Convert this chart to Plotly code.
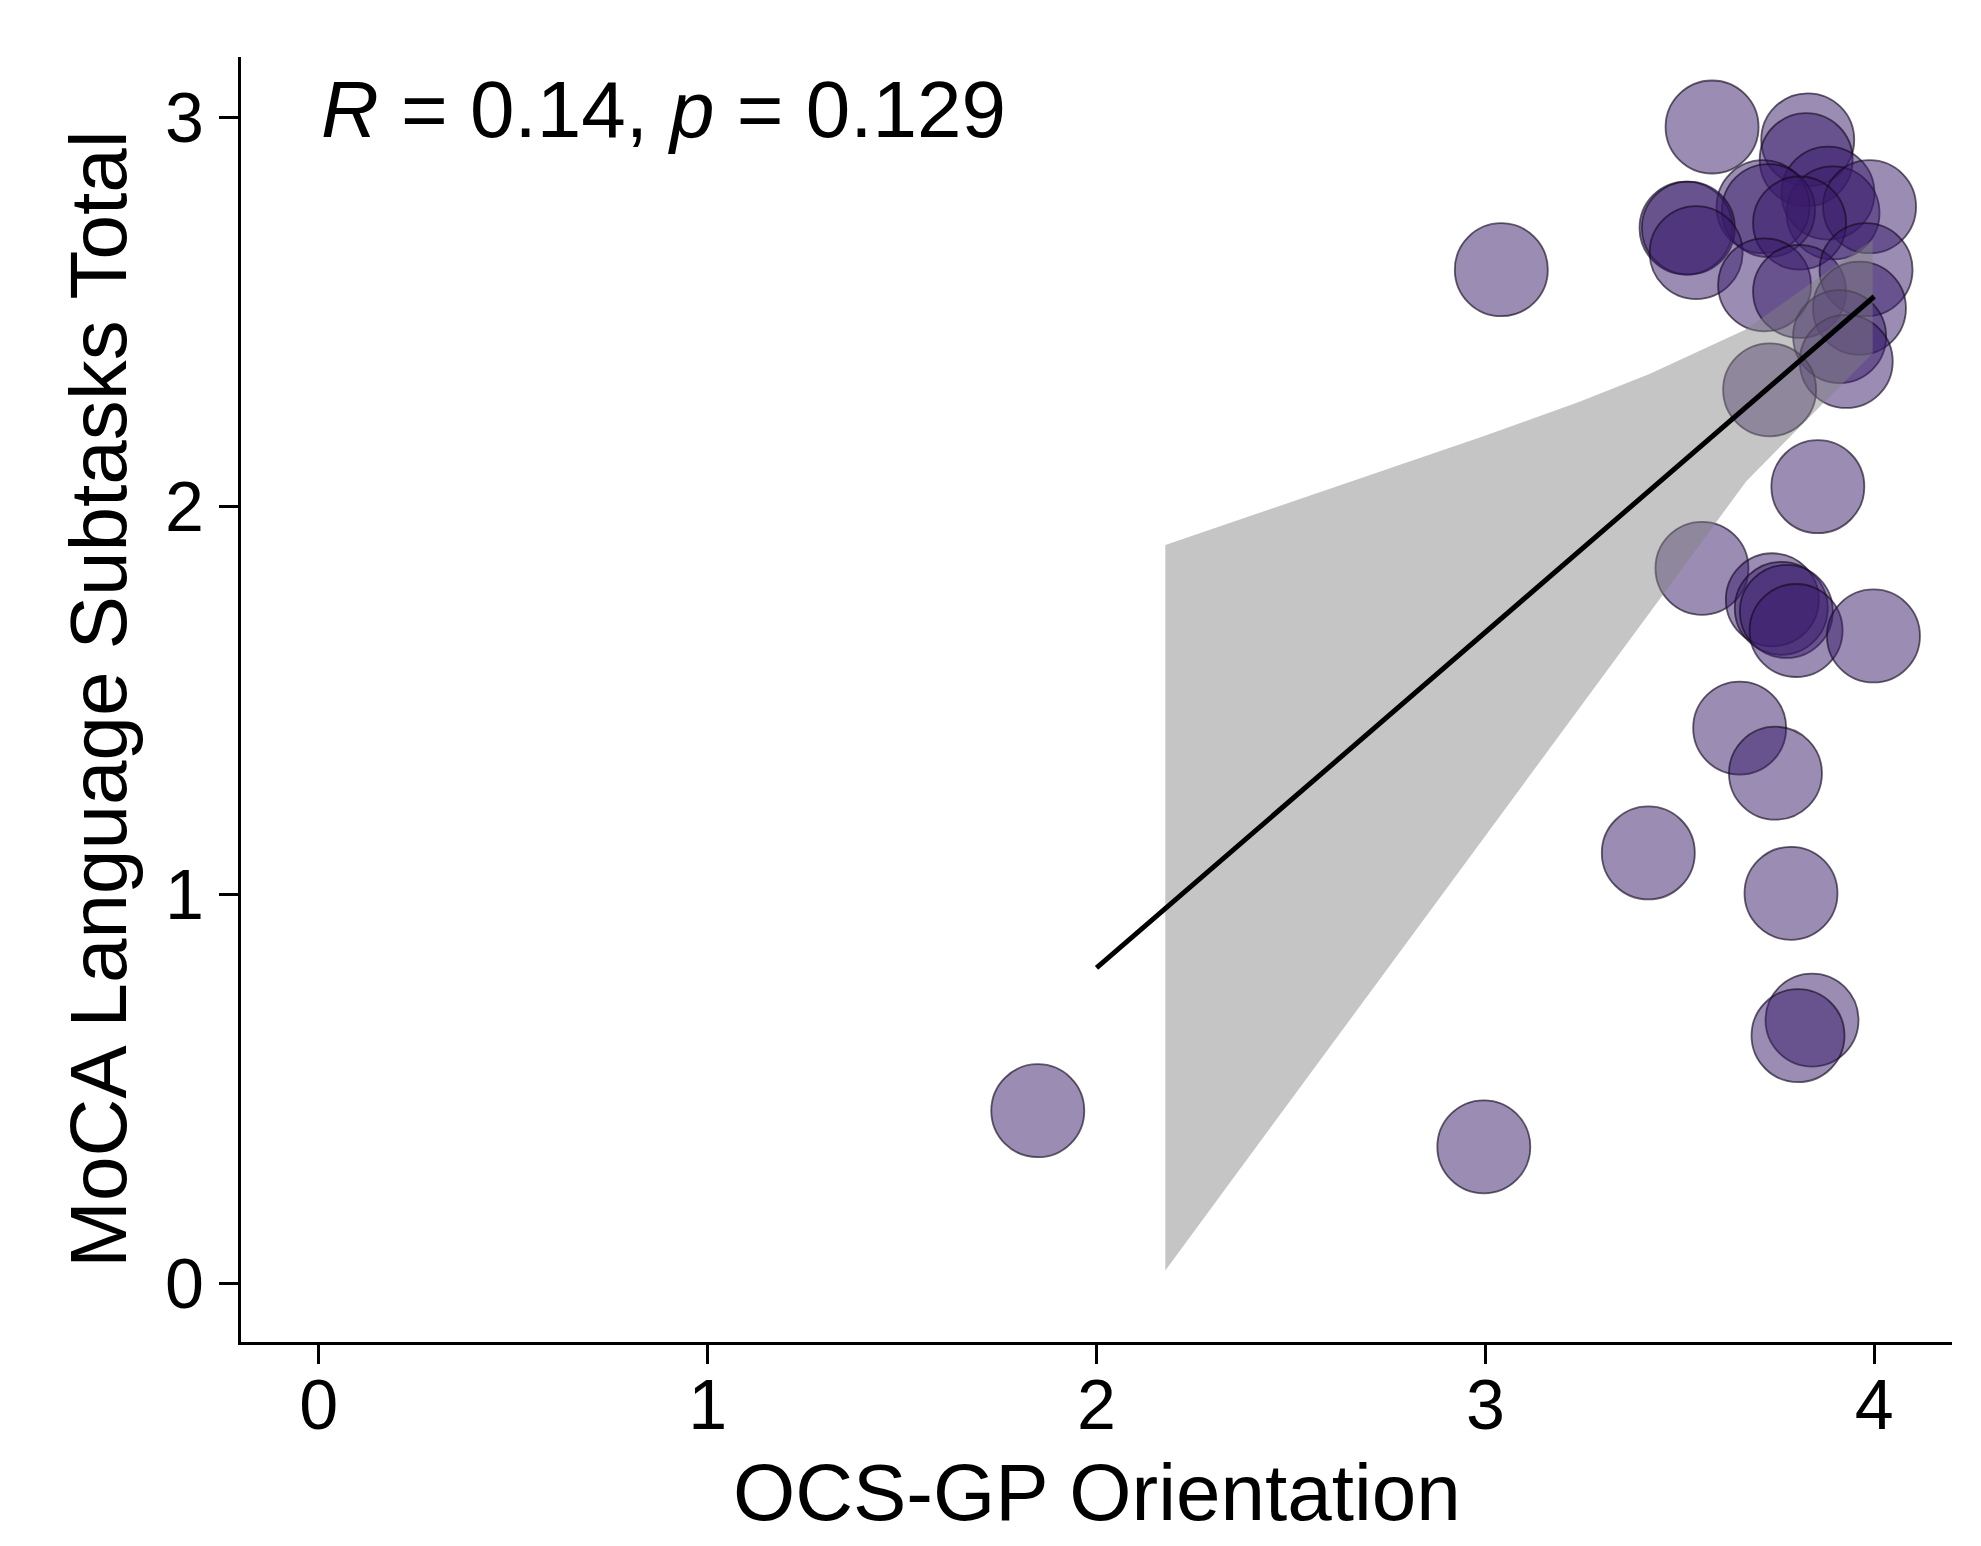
import plotly.graph_objects as go

# ---- data ----
ocs_orientation = [1.849, 2.996, 3.041, 3.419, 3.583, 3.829, 3.825, 3.881, 3.894, 3.988,
                   3.714, 3.728, 3.808, 3.516, 3.522, 3.542, 3.718, 3.808, 3.979, 3.962,
                   3.911, 3.928, 3.731, 3.855, 3.557, 3.738, 3.761, 3.774, 3.799, 3.998,
                   3.654, 3.746, 3.786, 3.840, 3.804]
moca_language = [0.445, 0.352, 2.608, 1.108, 2.975, 2.942, 2.891, 2.805, 2.754, 2.770,
                 2.770, 2.760, 2.728, 2.715, 2.715, 2.652, 2.569, 2.552, 2.608, 2.509,
                 2.436, 2.372, 2.299, 2.050, 1.840, 1.759, 1.737, 1.729, 1.680, 1.666,
                 1.429, 1.313, 1.004, 0.678, 0.638]

fit_x = [2.0, 4.0]
fit_y = [0.812, 2.539]

band_x = [2.177, 2.565, 2.993, 3.242, 3.422, 3.671, 3.996]
band_upper = [1.900, 2.033, 2.179, 2.268, 2.340, 2.455, 2.685]
band_lower = [0.034, 0.561, 1.142, 1.480, 1.725, 2.064, 2.393]

x_ticks = [0, 1, 2, 3, 4]
y_ticks = [0, 1, 2, 3]
x_title = "OCS-GP Orientation"
y_title = "MoCA Language Subtasks Total"
stat_text = "<i>R</i> = 0.14, <i>p</i> = 0.129"

FONT = "Liberation Sans, Arial, Helvetica, sans-serif"

fig = go.Figure()

fig.add_trace(go.Scatter(
    x=ocs_orientation, y=moca_language, mode="markers",
    marker=dict(size=93, color="rgba(55,25,105,0.5)",
                line=dict(color="rgba(20,10,30,0.65)", width=1.8)),
    showlegend=False, hoverinfo="skip"))

fig.add_trace(go.Scatter(
    x=band_x + band_x[::-1], y=band_upper + band_lower[::-1],
    mode="lines", fill="toself", fillcolor="rgba(128,128,128,0.46)",
    line=dict(width=0), showlegend=False, hoverinfo="skip"))

fig.add_trace(go.Scatter(
    x=fit_x, y=fit_y, mode="lines",
    line=dict(color="black", width=5), showlegend=False, hoverinfo="skip"))

axis_common = dict(
    showgrid=False, zeroline=False, showline=True, linecolor="black", linewidth=3,
    ticks="outside", ticklen=19, tickwidth=2.5, tickcolor="black",
    tickfont=dict(family=FONT, size=70, color="black"),
)

fig.update_xaxes(range=[-0.2, 4.2], tickvals=x_ticks, ticktext=[str(t) for t in x_ticks],
                 ticklabelstandoff=-19, **axis_common)
fig.update_yaxes(range=[-0.15, 3.155], tickvals=y_ticks, ticktext=[str(t) for t in y_ticks],
                 ticklabelstandoff=1, **axis_common)

fig.add_annotation(text=stat_text, x=0, y=3.02, xref="x", yref="y",
                   xanchor="left", yanchor="middle", showarrow=False,
                   font=dict(family=FONT, size=80, color="black"))
fig.add_annotation(text=x_title, x=0.5, y=-0.1175, xref="paper", yref="paper",
                   xanchor="center", yanchor="middle", showarrow=False,
                   font=dict(family=FONT, size=80, color="black"))
fig.add_annotation(text=y_title, x=-0.0835, y=0.5, xref="paper", yref="paper",
                   xanchor="center", yanchor="middle", textangle=-90, showarrow=False,
                   font=dict(family=FONT, size=80, color="black"))

fig.update_layout(
    width=1981, height=1546,
    margin=dict(l=233, r=37, t=49, b=212, autoexpand=False),
    plot_bgcolor="white", paper_bgcolor="white",
    font=dict(family=FONT, color="black"),
)

fig.write_html("out.html")
